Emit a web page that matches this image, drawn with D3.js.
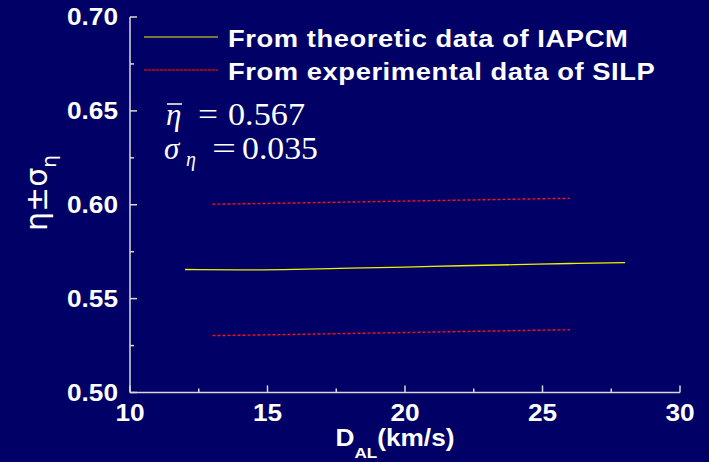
<!DOCTYPE html>
<html>
<head>
<meta charset="utf-8">
<script src="https://cdn.jsdelivr.net/npm/d3@7"></script>
<style>
  html, body { margin: 0; padding: 0; background: #000066; }
  svg { display: block; }
</style>
</head>
<body>
<div id="chart"></div>
<script>
// data
let theoryX = [12, 14, 16, 18, 20, 22, 24, 26, 28];
let theoryEta = [0.5655, 0.5653, 0.5656, 0.5662, 0.5668, 0.5675, 0.5681, 0.5687, 0.5692];
let expX = [13, 15, 17, 19, 21, 23, 25, 26];
let expUpper = [0.6003, 0.6007, 0.6012, 0.6017, 0.6022, 0.6027, 0.6032, 0.6034];
let expLower = [0.5303, 0.5307, 0.5312, 0.5317, 0.5322, 0.5327, 0.5332, 0.5334];
let xTicks = [10, 15, 20, 25, 30];
let yTicks = [0.50, 0.55, 0.60, 0.65, 0.70];
let legendNames = ["From theoretic data of IAPCM", "From experimental data of SILP"];
let etaMean = "0.567";
let etaSigma = "0.035";

let width = 709, height = 462;
let axisColor = "#d8d8d8";
let sx = 1.14; // the source picture is stretched sideways a bit
let sans = "'Liberation Sans', Arial, sans-serif";
let serif = "'Liberation Serif', 'Times New Roman', serif";

let svg = d3.select("#chart").append("svg")
  .attr("width", width)
  .attr("height", height);

svg.append("rect").attr("width", width).attr("height", height).attr("fill", "#000066");

let x = d3.scaleLinear().domain([10, 30]).range([130, 680]);
let y = d3.scaleLinear().domain([0.5, 0.7]).range([392.5, 17]);

// axes (ticks point inward)
let xMinor = d3.range(12.5, 30, 5);
let yMinor = d3.range(0.525, 0.7, 0.05);

let axes = svg.append("g").attr("stroke", axisColor).attr("stroke-width", 1.5);
axes.append("line").attr("x1", x(10)).attr("x2", x(10)).attr("y1", y(0.7)).attr("y2", y(0.5));
axes.append("line").attr("x1", x(10)).attr("x2", x(30)).attr("y1", y(0.5)).attr("y2", y(0.5));

axes.selectAll(".xt").data(xTicks).enter().append("line")
  .attr("x1", d => x(d)).attr("x2", d => x(d))
  .attr("y1", y(0.5)).attr("y2", y(0.5) - 7);
axes.selectAll(".xm").data(xMinor).enter().append("line")
  .attr("x1", d => x(d)).attr("x2", d => x(d))
  .attr("y1", y(0.5)).attr("y2", y(0.5) - 4);
axes.selectAll(".yt").data(yTicks).enter().append("line")
  .attr("x1", x(10)).attr("x2", x(10) + 7)
  .attr("y1", d => y(d)).attr("y2", d => y(d));
axes.selectAll(".ym").data(yMinor).enter().append("line")
  .attr("x1", x(10)).attr("x2", x(10) + 4)
  .attr("y1", d => y(d)).attr("y2", d => y(d));

// tick labels
svg.selectAll(".xl").data(xTicks).enter().append("text")
  .attr("transform", d => "translate(" + x(d) + "," + 421 + ") scale(" + sx + ",1)")
  .attr("text-anchor", "middle")
  .attr("font-family", sans)
  .attr("font-weight", "bold")
  .attr("font-size", 23)
  .attr("fill", "white")
  .text(d => d);

svg.selectAll(".yl").data(yTicks).enter().append("text")
  .attr("transform", d => "translate(" + 118 + "," + (y(d) + 8) + ") scale(" + sx + ",1)")
  .attr("text-anchor", "end")
  .attr("font-family", sans)
  .attr("font-weight", "bold")
  .attr("font-size", 23)
  .attr("fill", "white")
  .text(d => d.toFixed(2));

// axis titles
let xt = svg.append("text")
  .attr("transform", "translate(395,446) scale(" + sx + ",1)")
  .attr("text-anchor", "middle")
  .attr("font-family", sans)
  .attr("font-weight", "bold")
  .attr("font-size", 23)
  .attr("fill", "white");
xt.append("tspan").text("D");
xt.append("tspan").attr("font-size", 15).attr("dy", 12).text("AL");
xt.append("tspan").attr("dy", -12).text("(km/s)");

let yt = svg.append("text")
  .attr("transform", "translate(47,193) rotate(-90)")
  .attr("text-anchor", "middle")
  .attr("font-family", "'DejaVu Sans', sans-serif")
  .attr("font-size", 30)
  .attr("fill", "white");
yt.append("tspan").text("η±σ");
yt.append("tspan").attr("font-size", 20).attr("dy", 9).text("η");

// lines
let line = d3.line().x(d => x(d[0])).y(d => y(d[1])).curve(d3.curveMonotoneX);

svg.append("path")
  .datum(theoryX.map((d, i) => [d, theoryEta[i]]))
  .attr("d", line)
  .attr("fill", "none")
  .attr("stroke", "#f0f000")
  .attr("stroke-width", 1.3);

[expUpper, expLower].forEach(vals => {
  svg.append("path")
    .datum(expX.map((d, i) => [d, vals[i]]))
    .attr("d", line)
    .attr("fill", "none")
    .attr("stroke", "#ff1010")
    .attr("stroke-width", 1.4)
    .attr("stroke-dasharray", "3,2");
});

// legend
let legendY = [37, 70];
let legendStroke = ["#a0a030", "#b01020"];
let legendDash = [null, "3,1"];
legendNames.forEach((name, i) => {
  svg.append("line")
    .attr("x1", 144).attr("x2", 218)
    .attr("y1", legendY[i]).attr("y2", legendY[i])
    .attr("stroke", legendStroke[i])
    .attr("stroke-width", 1.5)
    .attr("stroke-dasharray", legendDash[i]);
  svg.append("text")
    .attr("transform", "translate(228," + (legendY[i] + 9.5) + ") scale(" + sx + ",1)")
    .attr("font-family", sans)
    .attr("font-weight", "bold")
    .attr("font-size", 24)
    .attr("letter-spacing", 0.5)
    .attr("fill", "white")
    .text(name);
});

// mean and sigma, placed in screen x
let f1 = svg.append("text")
  .attr("transform", "translate(0,125)")
  .attr("font-family", serif).attr("font-size", 31).attr("fill", "white");
f1.append("tspan").attr("x", 166).attr("font-style", "italic").text("η");
f1.append("tspan").attr("x", 198)
  .attr("textLength", 20).attr("lengthAdjust", "spacingAndGlyphs").text("=");
f1.append("tspan").attr("x", 228)
  .attr("textLength", 77).attr("lengthAdjust", "spacingAndGlyphs").text(etaMean);
svg.append("line")
  .attr("x1", 167).attr("x2", 182).attr("y1", 104).attr("y2", 104)
  .attr("stroke", "white").attr("stroke-width", 1.5);

let f2 = svg.append("text")
  .attr("transform", "translate(0,159)")
  .attr("font-family", serif).attr("font-size", 31).attr("fill", "white");
f2.append("tspan").attr("x", 164).attr("font-style", "italic").text("σ");
f2.append("tspan").attr("x", 186).attr("dy", 7).attr("font-style", "italic").attr("font-size", 20).text("η");
f2.append("tspan").attr("x", 212).attr("dy", -7)
  .attr("textLength", 24).attr("lengthAdjust", "spacingAndGlyphs").text("=");
f2.append("tspan").attr("x", 242)
  .attr("textLength", 76).attr("lengthAdjust", "spacingAndGlyphs").text(etaSigma);
</script>
</body>
</html>
